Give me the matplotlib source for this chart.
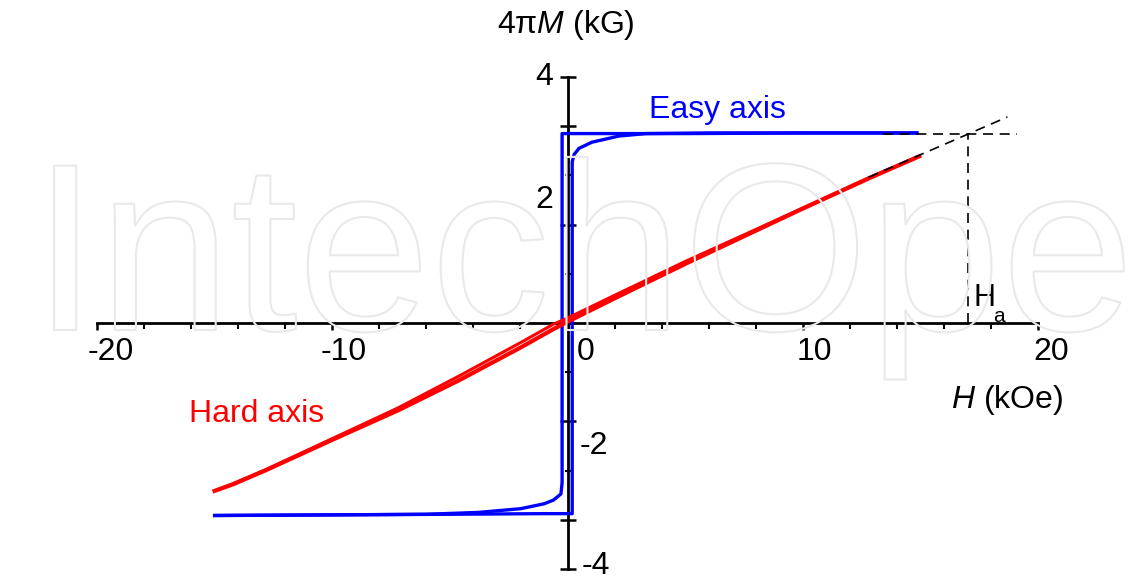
import matplotlib
matplotlib.use("Agg")
import matplotlib.pyplot as plt
import matplotlib.patheffects as pe
from matplotlib.ticker import FixedLocator

plt.rcParams["font.family"] = ["Liberation Sans", "DejaVu Sans"]
plt.rcParams["mathtext.fontset"] = "custom"
plt.rcParams["mathtext.rm"] = "Liberation Sans"
plt.rcParams["mathtext.it"] = "Liberation Sans:italic"

# easy axis loop (kOe, kG)
easy_h_down = [14.85, 10.0, 5.0, 2.0, 0.5, -0.23, -0.23, -0.28, -0.6, -1.0, -2.0, -3.8, -6.0, -10.0, -15.0]
easy_m_down = [3.09, 3.09, 3.08, 3.08, 3.08, 3.08, -2.6, -2.78, -2.88, -2.94, -3.02, -3.08, -3.11, -3.12, -3.13]
easy_h_up = [-15.0, -10.0, -5.0, -1.0, 0.2, 0.2, 0.28, 0.49, 1.04, 2.19, 3.34, 6.0, 10.0, 14.85]
easy_m_up = [-3.13, -3.12, -3.11, -3.10, -3.10, 2.62, 2.74, 2.84, 2.94, 3.04, 3.08, 3.09, 3.09, 3.09]

# hard axis loop
hard_h = [-15.0, -14.2, -12.8, -10.0, -7.2, -4.6, -2.0, -0.6, 0.0, 2.0, 5.0, 8.0, 10.0, 12.8, 14.95]
hard_m_up = [-2.73, -2.62, -2.39, -1.90, -1.42, -0.93, -0.40, -0.10, 0.02, 0.40, 0.96, 1.50, 1.86, 2.35, 2.71]
hard_m_down = [-2.73, -2.61, -2.38, -1.88, -1.38, -0.86, -0.32, -0.02, 0.08, 0.45, 1.00, 1.52, 1.87, 2.36, 2.71]

# anisotropy field construction
ha_value = 17.04
ms_value = 3.08
extrap_h = [12.8, 18.7]
extrap_m = [2.37, 3.35]
sat_h = [13.4, 19.1]

xticks_major = [-20, -10, 0, 10, 20]
xticks_minor = [-18, -16, -14, -12, -8, -6, -4, -2, 2, 4, 6, 8, 12, 14, 16, 18]
yticks_major = [-4, -3.2, -1.6, 1.6, 3.2, 4]
yticks_minor = [-2.4, -0.8, 0.8, 2.4]

fig = plt.figure(figsize=(11.43, 5.81), dpi=100)
fig.text(32 / 1143, 0.432, "IntechOpen", fontsize=172, color="none", ha="left",
         va="baseline", zorder=0,
         path_effects=[pe.withStroke(linewidth=1.5, foreground="#e9e9e9")])

ax = fig.add_axes([97 / 1143, 12 / 581, 941 / 1143, 492 / 581])
ax.set_facecolor("none")
ax.set_xlim(-20, 20)
ax.set_ylim(-4, 4)

ax.plot(easy_h_down, easy_m_down, color="#0000ff", lw=2.4, zorder=3)
ax.plot(easy_h_up, easy_m_up, color="#0000ff", lw=2.4, zorder=3)
ax.plot(hard_h, hard_m_up, color="#ff0000", lw=3, zorder=4)
ax.plot(hard_h, hard_m_down, color="#ff0000", lw=2.2, zorder=4)

ax.plot(extrap_h, extrap_m, color="black", lw=1.2, ls=(0, (6, 4)), zorder=5)
ax.plot(sat_h, [ms_value, ms_value], color="black", lw=1.2, ls=(0, (6, 4)), zorder=5)
ax.plot([ha_value, ha_value], [0, ms_value], color="black", lw=1.2, ls=(0, (6, 4)), zorder=5)

for side in ["top", "right"]:
    ax.spines[side].set_visible(False)
ax.spines["left"].set_position(("data", 0))
ax.spines["bottom"].set_position(("data", 0))
ax.spines["left"].set_linewidth(2)
ax.spines["bottom"].set_linewidth(2)
ax.spines["left"].set_zorder(2)
ax.spines["bottom"].set_zorder(2)

ax.xaxis.set_major_locator(FixedLocator(xticks_major))
ax.xaxis.set_minor_locator(FixedLocator(xticks_minor))
ax.yaxis.set_major_locator(FixedLocator(yticks_major))
ax.yaxis.set_minor_locator(FixedLocator(yticks_minor))
ax.tick_params(axis="x", which="major", direction="out", length=5, width=1.8, labelbottom=False)
ax.tick_params(axis="x", which="minor", direction="out", length=4, width=1.5)
ax.tick_params(axis="y", which="major", direction="inout", length=11, width=1.8, labelleft=False)
ax.tick_params(axis="y", which="minor", direction="inout", length=5, width=1.5)

fs = 23
# x tick labels
for x, lab in [(-20.38, "-20"), (-10.5, "-10"), (0.4, "0"), (9.75, "10"), (19.8, "20")]:
    ax.text(x, -0.47, lab, fontsize=fs, ha="left", va="center")
# y tick labels
ax.text(-0.6, 4.0, "4", fontsize=fs, ha="right", va="center")
ax.text(-0.6, 2.0, "2", fontsize=fs, ha="right", va="center")
ax.text(0.5, -2.0, "-2", fontsize=fs, ha="left", va="center")
ax.text(0.6, -3.95, "-4", fontsize=fs, ha="left", va="center")

ax.text(-0.06, 4.84, r"4π$\mathit{M}$ (kG)", fontsize=fs, ha="center", va="center")
ax.text(16.3, -1.25, r"$\mathit{H}$ (kOe)", fontsize=fs, ha="left", va="center")
ax.text(17.25, 0.41, "H", fontsize=22, ha="left", va="center")
ax.text(18.1, 0.1, "a", fontsize=15, ha="left", va="center")
ax.text(3.47, 3.46, "Easy axis", fontsize=fs, color="#0000ff", ha="left", va="center")
ax.text(-16.1, -1.48, "Hard axis", fontsize=fs, color="#ff0000", ha="left", va="center")

fig.savefig("out.png", dpi=100)
